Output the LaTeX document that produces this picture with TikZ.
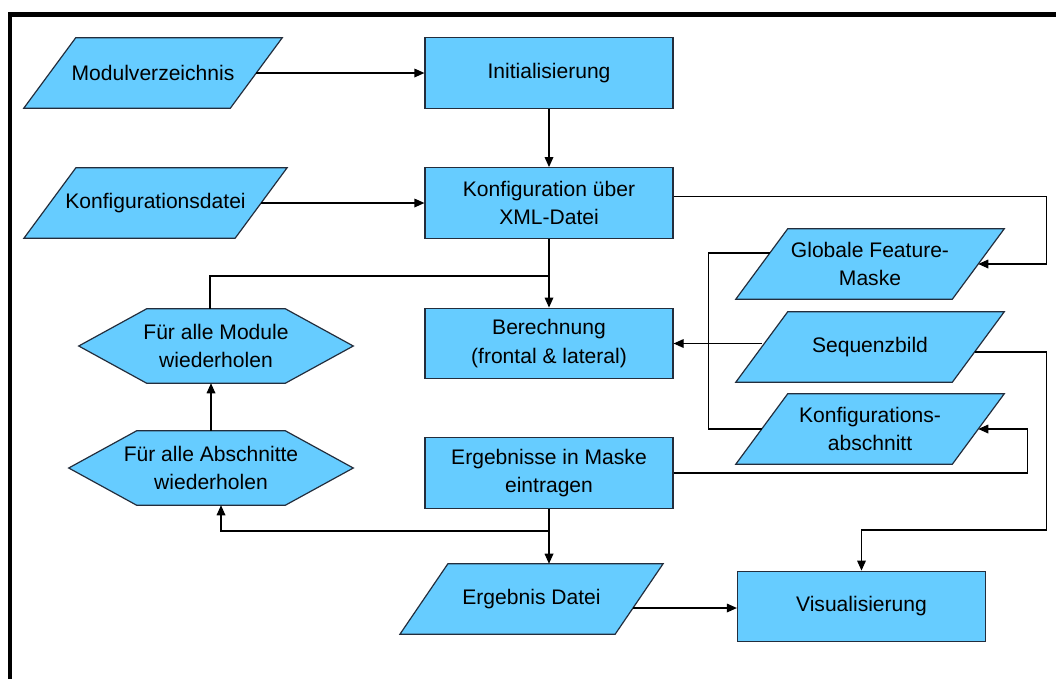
\documentclass[tikz,border=0pt]{standalone}
\usepackage{fontspec}
\setmainfont{Liberation Sans}
\usetikzlibrary{arrows.meta}

\definecolor{boxblue}{RGB}{102,204,255}
\definecolor{boxline}{RGB}{35,45,60}

\begin{document}
\begin{tikzpicture}[x=0.75pt,y=-0.75pt,
  every node/.style={font=\fontsize{15.8}{21.5}\selectfont, align=center},
  box/.style={draw=boxline, fill=boxblue, line width=0.9pt, minimum width=186pt, minimum height=53pt, inner sep=0pt},
  body/.style={minimum height=52.5pt, inner sep=0pt},
  outline/.style={draw=boxline, fill=boxblue, line width=0.9pt},
  flow/.style={line width=0.9pt, -{Triangle[length=7.5pt,width=6.5pt]}},
  link/.style={line width=0.9pt}]

  \path[use as bounding box, fill=white] (0,0) rectangle (1056,679);
  % Frame
  \draw[line width=3.75pt] (8,14.5) -- (1056,14.5);
  \draw[line width=3pt] (10,12) -- (10,679);

  % Process boxes
  \foreach \nm/\x/\y/\txt in {init/549/73/Initialisierung,
      konf/549/203/Konfiguration über\\XML-Datei,
      berech/549/343.5/Berechnung\\(frontal \& lateral),
      ergmaske/549/473/Ergebnisse in Maske\\eintragen,
      visual/861.5/606.5/Visualisierung}{
    \node[box] (\nm) at (\x,\y) {\txt};
  }

  % Data (parallelograms around a body node)
  \foreach \nm/\x/\y/\w/\s/\txt in {modul/153/73/154.5/19.5/Modulverzeichnis,
      konfdatei/155.5/203/158/19.5/Konfigurationsdatei,
      globmaske/870/264/162/19.5/Globale Feature-\\Maske,
      seqbild/870/347/162/19.5/Sequenzbild,
      konfab/870/429/162/19.5/Konfigurations-\\abschnitt,
      ergdatei/531.5/599/161/18/Ergebnis Datei}{
    \node[body, minimum width=\w pt] (\nm) at (\x,\y) {};
    \draw[outline] ([xshift=-\s pt]\nm.south west) -- ([xshift=-\s pt]\nm.south east)
      -- ([xshift=\s pt]\nm.north east) -- ([xshift=\s pt]\nm.north west) -- cycle;
    \node (\nm-txt) at (\nm) {\txt};
  }

  % Loops (hexagons)
  \foreach \nm/\x/\y/\w/\txt in {modloop/216/346/205.5/Für alle Module\\wiederholen,
      abloop/211/468/213/Für alle Abschnitte\\wiederholen}{
    \node[body, minimum width=\w pt, minimum height=55.5pt] (\nm) at (\x,\y) {};
    \draw[outline] (\nm.west) -- ([xshift=51pt]\nm.north west) -- ([xshift=-51pt]\nm.north east)
      -- (\nm.east) -- ([xshift=-51pt]\nm.south east) -- ([xshift=51pt]\nm.south west) -- cycle;
    \node (\nm-txt) at (\nm) {\txt};
  }

  \coordinate (jtop) at (549,276);
  \coordinate (jbot) at (549,531);
  \coordinate (gout) at ([xshift=6.1pt,yshift=8.25pt]globmaske.west);
  \coordinate (sout) at ([xshift=-2.8pt,yshift=-3.75pt]seqbild.east);
  \coordinate (eout) at ([xshift=-4.6pt,yshift=-6.75pt]ergdatei.east);

  % Edges
  \draw[flow] (modul.east) -- (init.west);
  \draw[flow] (init) -- (konf);
  \draw[flow] (konfdatei.east) -- (konf.west);
  \draw[flow] (konf.3) -- ++(373,0) |- (globmaske.east);
  \draw[flow] (konf) -- (berech);
  \draw[link] ([xshift=-4.5pt]modloop.north) |- (jtop);
  \draw[link] (gout) -- ++(-61,0) |- (konfab.west);
  \draw[flow] (berech.east -| seqbild.west) -- (berech.east);
  \draw[flow] (sout) -- ++(72,0) -- ++(0,178) -| (visual.north);
  \draw[flow] (ergmaske.east) -- ++(354,0) |- (konfab.east);
  \draw[flow] (ergmaske) -- (ergmaske.south |- ergdatei.north);
  \draw[flow] (jbot) -| ([xshift=7.5pt]abloop.south);
  \draw[flow] (abloop.north) -- (abloop.north |- modloop.south);
  \draw[flow] (eout) -- (eout -| visual.west);

\end{tikzpicture}
\end{document}
